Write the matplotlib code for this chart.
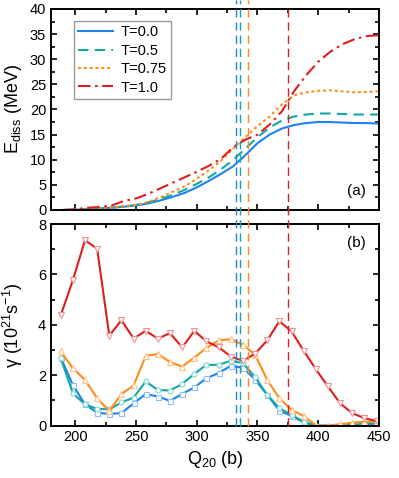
import matplotlib
matplotlib.use("Agg")
from matplotlib import pyplot as plt
from matplotlib.lines import Line2D
from matplotlib.ticker import MultipleLocator
import matplotlib.transforms as mtransforms

plt.rcParams['font.family'] = ['Liberation Sans', 'DejaVu Sans']
plt.rcParams['mathtext.fontset'] = 'custom'
plt.rcParams['mathtext.rm'] = 'Liberation Sans'
plt.rcParams['mathtext.default'] = 'regular'

# top panel: dissipated energy vs Q20
q_top = [190, 200, 210, 220, 230, 240, 250, 260, 270, 280, 290, 300, 310, 320,
         330, 340, 350, 360, 370, 380, 390, 400, 410, 420, 430, 440, 450]
e_t00 = [0.0, 0.05, 0.15, 0.3, 0.45, 0.65, 0.9, 1.3, 1.9, 2.6, 3.4, 4.5, 5.8, 7.2,
         8.7, 10.9, 13.3, 15.0, 16.2, 16.9, 17.3, 17.5, 17.5, 17.4, 17.3, 17.3, 17.2]
e_t05 = [0.0, 0.05, 0.15, 0.3, 0.45, 0.7, 1.0, 1.5, 2.2, 3.0, 4.0, 5.2, 6.5, 8.1,
         10.0, 12.2, 14.5, 16.4, 17.8, 18.6, 19.0, 19.2, 19.2, 19.1, 19.0, 19.0, 19.0]
e_t075 = [0.0, 0.05, 0.15, 0.3, 0.5, 0.75, 1.0, 1.6, 2.5, 3.6, 4.7, 6.2, 7.9, 9.8,
          12.2, 14.5, 16.7, 18.6, 21.0, 22.8, 23.4, 23.7, 23.8, 23.6, 23.4, 23.5, 23.6]
e_t10 = [0.0, 0.15, 0.45, 0.6, 0.9, 1.8, 2.3, 3.2, 4.3, 5.4, 6.5, 7.6, 8.8, 10.2,
         12.5, 14.0, 15.0, 17.0, 19.6, 23.6, 26.8, 29.5, 31.5, 33.0, 34.0, 34.6, 34.8]

# bottom panel: friction coefficient gamma
q_bot = [188, 198, 208, 218, 228, 238, 248, 258, 268, 278, 288, 298, 308, 318,
         328, 338, 348, 358, 368, 378, 388, 398, 408, 418, 428, 438, 448]
g_t00 = [2.70, 1.61, 0.84, 0.51, 0.46, 0.49, 0.88, 1.25, 1.15, 0.98, 1.25, 1.51, 1.88, 2.08,
         2.37, 2.30, 1.82, 1.22, 0.59, 0.38, 0.13, 0.0, -0.03, 0.0, 0.02, 0.06, 0.06]
g_t05 = [2.68, 1.28, 0.84, 0.66, 0.64, 0.92, 1.11, 1.75, 1.41, 1.39, 1.65, 2.05, 2.41, 2.41,
         2.57, 2.48, 1.92, 1.22, 0.69, 0.42, 0.15, 0.0, 0.0, 0.0, 0.0, 0.08, 0.08]
g_t075 = [2.94, 2.28, 1.81, 1.08, 0.58, 1.25, 1.59, 2.77, 2.84, 2.52, 2.34, 2.70, 3.08, 3.38,
          3.43, 3.21, 2.81, 1.81, 1.08, 0.62, 0.38, 0.0, 0.0, 0.05, 0.11, 0.15, 0.15]
g_t10 = [4.37, 5.77, 7.36, 7.02, 3.57, 4.18, 3.45, 3.76, 3.45, 3.67, 3.10, 3.76, 3.34, 3.11,
         2.74, 2.57, 2.85, 3.38, 4.14, 3.74, 2.97, 2.24, 1.55, 0.88, 0.49, 0.29, 0.18]

# scission points for each temperature
q_sc = [332.5, 335.2, 342, 375]

labels = ["T=0.0", "T=0.5", "T=0.75", "T=1.0"]
colors = ["#1E82F0", "#14A8A2", "#FF8C1A", "#DC1E1E"]
edge_light = ["#8CC0F8", "#80D8D2", "#FFC080", "#F09090"]
markers = ["s", "o", "^", "v"]
dashes = [(None, None), (5, 3), (1.4, 1.4), (6, 2.2, 1.2, 2.2)]

fig = plt.figure(figsize=(3.99, 4.78), dpi=100)
ax1 = fig.add_axes([0.1278, 0.5607, 0.822, 0.4205])
ax2 = fig.add_axes([0.1278, 0.1098, 0.822, 0.4215])

for i, e in enumerate([e_t00, e_t05, e_t075, e_t10]):
    ln, = ax1.plot(q_top, e, color=colors[i], lw=1.5, label=labels[i])
    if i > 0:
        ln.set_dashes(dashes[i])

for i, g in enumerate([g_t00, g_t05, g_t075, g_t10]):
    ms = 4.5 if markers[i] in ("^", "v") else 3.6
    ax2.plot(q_bot, g, color=colors[i], lw=1.5, marker=markers[i], ms=ms,
             mfc="white", mec=edge_light[i], mew=0.8)

for ax in (ax1, ax2):
    ax.set_xlim(180, 450)
    ax.xaxis.set_major_locator(MultipleLocator(50))
    ax.xaxis.set_minor_locator(MultipleLocator(25))
    ax.tick_params(which="both", direction="in", top=True, right=True,
                   labelsize=10.5, width=1.2)
    ax.tick_params(which="major", length=4.5)
    ax.tick_params(which="minor", length=3)
    for s in ax.spines.values():
        s.set_linewidth(1.4)

ax1.set_ylim(0, 40)
ax1.yaxis.set_major_locator(MultipleLocator(5))
ax1.yaxis.set_minor_locator(MultipleLocator(2.5))
ax1.tick_params(labelbottom=False)
ax1.set_ylabel("E$_{diss}$ (MeV)", fontsize=13, labelpad=4)
ax1.text(0.96, 0.06, "(a)", transform=ax1.transAxes, ha="right", va="bottom", fontsize=11)
ax1.legend(loc="upper left", bbox_to_anchor=(0.07, 0.94), borderaxespad=0,
           fancybox=False, edgecolor="#999999", framealpha=1, fontsize=10.5,
           handlelength=2.4, handletextpad=0.5, labelspacing=0.3, borderpad=0.3)

ax2.set_ylim(0, 8)
ax2.yaxis.set_major_locator(MultipleLocator(2))
ax2.yaxis.set_minor_locator(MultipleLocator(1))
ax2.set_ylabel("γ (10$^{21}$s$^{-1}$)", fontsize=13, labelpad=9)
ax2.set_xlabel("Q$_{20}$ (b)", fontsize=13, labelpad=3)
ax2.text(0.96, 0.94, "(b)", transform=ax2.transAxes, ha="right", va="top", fontsize=11)

# vertical scission lines through both panels
trans = mtransforms.blended_transform_factory(ax2.transData, fig.transFigure)
y_bot = 0.1098
for i, q in enumerate(q_sc):
    y_top = 0.9812 if i == 3 else 1.0
    fig.add_artist(Line2D([q, q], [y_bot, y_top], transform=trans, color=colors[i],
                          lw=1.0, dashes=(6, 3.5), zorder=5))

fig.savefig("out.png", dpi=100)
